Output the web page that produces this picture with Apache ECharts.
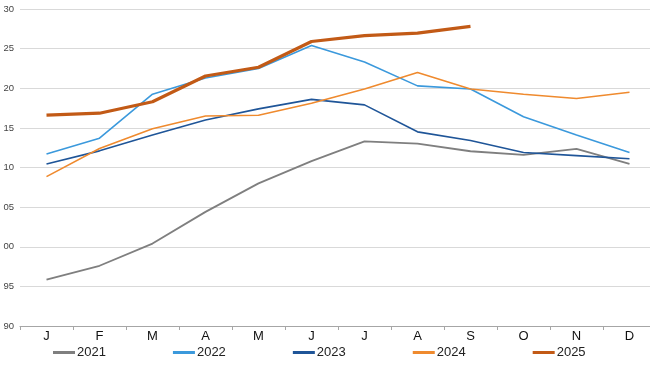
<!DOCTYPE html>
<html><head><meta charset="utf-8">
<script src="https://cdn.jsdelivr.net/npm/echarts@6/dist/echarts.min.js"></script>
<style>html,body{margin:0;padding:0;background:#fff;overflow:hidden}#c{width:656px;height:365px}</style>
</head><body><div id="c"></div>
<script>
const months = ['J','F','M','A','M','J','J','A','S','O','N','D'];
const s2021 = [95.85, 97.6, 100.4, 104.4, 108.0, 110.8, 113.3, 113.0, 112.05, 111.6, 112.35, 110.45];
const s2022 = [111.7, 113.7, 119.25, 121.3, 122.5, 125.4, 123.3, 120.3, 119.9, 116.4, 114.1, 111.9];
const s2023 = [110.45, 112.1, 114.1, 116.0, 117.4, 118.6, 117.9, 114.5, 113.4, 111.9, 111.5, 111.1];
const s2024 = [108.85, 112.4, 114.9, 116.5, 116.6, 118.1, 119.9, 122.0, 119.9, 119.25, 118.7, 119.5];
const s2025 = [116.6, 116.85, 118.3, 121.55, 122.65, 125.9, 126.65, 126.95, 127.8];
const yMin = 90, yMax = 130, yStep = 5;

const chart = echarts.init(document.getElementById('c'), null, {renderer:'canvas'});
function mk(name, data, color, width, z){
  return {name, type:'line', data, symbol:'none', smooth:false, z,
    lineStyle:{color, width}, itemStyle:{color}};
}
chart.setOption({
  animation:false,
  textStyle:{fontFamily:'Liberation Sans, Arial, sans-serif'},
  grid:{left:20, right:0, top:9, bottom:39},
  legend:{top:341, left:48, itemGap:67, itemWidth:22, itemHeight:3,
    icon:'rect',
    textStyle:{fontSize:13, color:'#222', fontFamily:'Liberation Sans Narrow, Liberation Sans, sans-serif', padding:[0,0,0,-3]},
    data:['2021','2022','2023','2024','2025']},
  xAxis:{type:'category', data:months, boundaryGap:true,
    axisLine:{lineStyle:{color:'#a6a6a6', width:1}},
    axisTick:{show:true, length:4, lineStyle:{color:'#a6a6a6'}},
    axisLabel:{color:'#111', fontSize:13, margin:4}},
  yAxis:{type:'value', min:yMin, max:yMax, interval:yStep,
    axisLine:{show:false}, axisTick:{show:false},
    splitLine:{lineStyle:{color:'#d9d9d9', width:1}},
    axisLabel:{color:'#444', fontSize:9.5, margin:6,
      formatter:v=>String(v%100).padStart(2,'0')}},
  series:[
    mk('2021', s2021, '#7f7f7f', 1.8, 2),
    mk('2022', s2022, '#3b99dc', 1.6, 3),
    mk('2023', s2023, '#1f5598', 1.6, 4),
    mk('2024', s2024, '#ef8a2e', 1.6, 5),
    mk('2025', s2025, '#c25a16', 3.2, 6)
  ]
});
</script></body></html>
